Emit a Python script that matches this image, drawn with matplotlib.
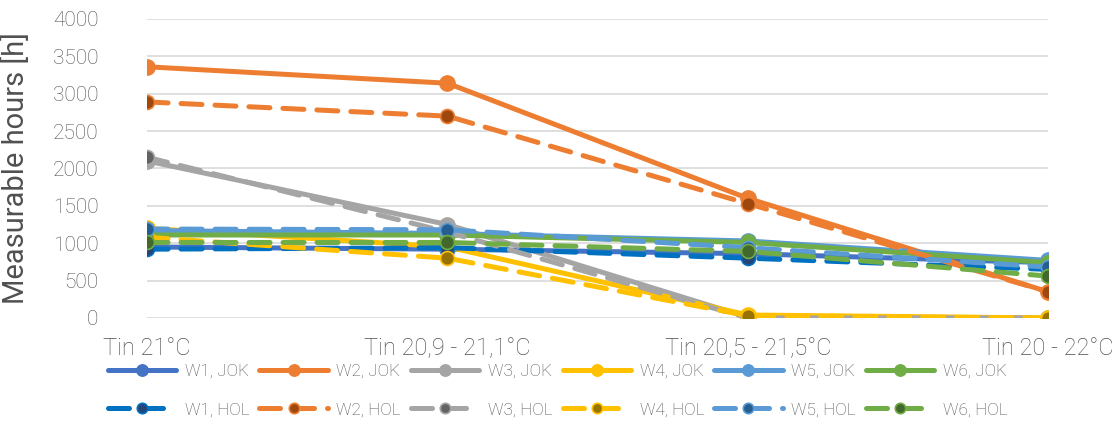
import numpy as np
import matplotlib.pyplot as plt

plt.rcParams['font.family'] = ['Roboto', 'DejaVu Sans']
plt.rcParams['font.weight'] = 'light'

# categories and series values (hours)
categories = ['Tin 21°C', 'Tin 20,9 - 21,1°C', 'Tin 20,5 - 21,5°C', 'Tin 20 - 22°C']

w1_jok = [950, 920, 860, 740]
w2_jok = [3360, 3140, 1600, 350]
w3_jok = [2100, 1250, 10, 0]
w4_jok = [1200, 950, 40, 0]
w5_jok = [1170, 1130, 1030, 770]
w6_jok = [1110, 1110, 1010, 740]

w1_hol = [920, 940, 800, 650]
w2_hol = [2890, 2700, 1530, 350]
w3_hol = [2150, 1150, 0, 0]
w4_hol = [1080, 800, 30, 0]
w5_hol = [1190, 1180, 940, 680]
w6_hol = [1010, 1010, 890, 560]

jok_series = [('W1, JOK', w1_jok), ('W2, JOK', w2_jok), ('W3, JOK', w3_jok),
              ('W4, JOK', w4_jok), ('W5, JOK', w5_jok), ('W6, JOK', w6_jok)]
hol_series = [('W1, HOL', w1_hol), ('W2, HOL', w2_hol), ('W3, HOL', w3_hol),
              ('W4, HOL', w4_hol), ('W5, HOL', w5_hol), ('W6, HOL', w6_hol)]

jok_colors = ['#4472C4', '#ED7D31', '#A5A5A5', '#FFC000', '#5B9BD5', '#70AD47']
hol_colors = ['#0070C0', '#ED7D31', '#A5A5A5', '#FFC000', '#5B9BD5', '#70AD47']
hol_marker = ['#264478', '#9E480E', '#636363', '#997300', '#255E91', '#43682B']

txt = '#505050'
x = np.arange(len(categories))

fig = plt.figure(figsize=(11.14, 4.21), dpi=100)
ax = fig.add_axes([0.132, 0.2447, 0.809, 0.7103])

handles = []
z = 3
for i in range(6):
    lab, vals = jok_series[i]
    h1, = ax.plot(x, vals, color=jok_colors[i], lw=3.6, marker='o', ms=11,
                  solid_capstyle='round', label=lab, zorder=z)
    z += 1
    handles.append(h1)
for i in range(6):
    lab, vals = hol_series[i]
    h2, = ax.plot(x, vals, color=hol_colors[i], lw=3.6, marker='o', ms=10,
                  markerfacecolor=hol_marker[i], markeredgecolor=hol_colors[i],
                  markeredgewidth=1.2, dashes=(4.2, 2.6), dash_capstyle='round',
                  label=lab, zorder=z)
    z += 1
    handles.append(h2)

# legend order: column-wise fill, so pair JOK with HOL per column
order = []
for i in range(6):
    order.append(handles[i])
    order.append(handles[i + 6])

ax.set_xlim(0, 3)
ax.set_ylim(0, 4000)
ax.set_yticks(np.arange(0, 4001, 500))
ax.set_xticks(x)
ax.set_xticklabels(categories, fontsize=17, color=txt)
ax.tick_params(axis='y', labelsize=15, colors=txt, length=0, pad=35)
ax.tick_params(axis='x', length=0, pad=14)
for lbl in ax.get_yticklabels():
    lbl.set_horizontalalignment('right')
ax.yaxis.grid(True, color='#D9D9D9', lw=1.2)
ax.set_axisbelow(True)
for s in ax.spines.values():
    s.set_visible(False)
ax.set_ylabel('Measurable hours [h]', fontsize=21, color=txt)
ax.yaxis.set_label_coords(-0.13, 0.5)

leg = fig.legend(handles=order, loc='lower left', bbox_to_anchor=(0.083, -0.028),
                 ncol=6, frameon=False, fontsize=12.3, handlelength=4.0,
                 markerscale=0.75, columnspacing=0.6, handletextpad=0.5,
                 labelspacing=1.4)
for t in leg.get_texts():
    t.set_color(txt)

fig.savefig('out.png', dpi=100)
